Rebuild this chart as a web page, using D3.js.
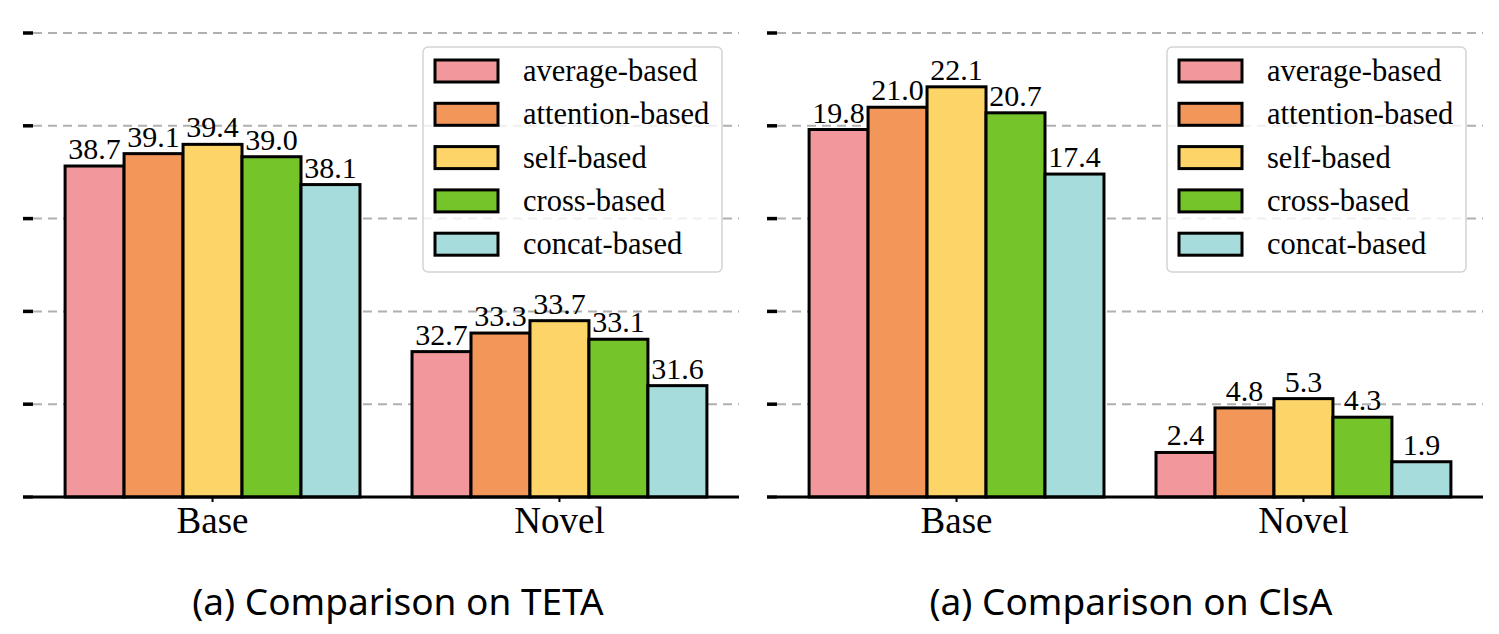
<!DOCTYPE html>
<html>
<head>
<meta charset="utf-8">
<script src="https://cdn.jsdelivr.net/npm/d3@7"></script>
<style>
html,body{margin:0;padding:0;background:#fff;}
svg{display:block;}
</style>
</head>
<body>
<svg id="chart" width="1499" height="634"></svg>
<script>
// ---- data ----
const categories = ["Base", "Novel"];
const methods = ["average-based", "attention-based", "self-based", "cross-based", "concat-based"];
const colors = ["#F2989C", "#F2965A", "#FDD467", "#74C42A", "#A7DCDC"];
const tetaValues = [
  [38.7, 32.7],
  [39.1, 33.3],
  [39.4, 33.7],
  [39.0, 33.1],
  [38.1, 31.6]
];
const clsaValues = [
  [19.8, 2.4],
  [21.0, 4.8],
  [22.1, 5.3],
  [20.7, 4.3],
  [17.4, 1.9]
];
const tetaTicks = [28, 31, 34, 37, 40, 43];
const clsaTicks = [0, 5, 10, 15, 20, 25];
const titles = ["(a) Comparison on TETA", "(a) Comparison on ClsA"];

// ---- drawing ----
const svg = d3.select("#chart");
const serif = "'Liberation Serif','Times New Roman',Times,serif";
const sans = "'Noto Sans','Open Sans',sans-serif";
const barW = 0.17;

function panel(opts) {
  const {x0, x1, values, ticks, title, titleX} = opts;
  const yTop = 33, yBot = 497;
  const g = svg.append("g");
  const x = d3.scaleLinear().domain([-0.5175, 1.5175]).range([x0, x1]);
  const y = d3.scaleLinear().domain([ticks[0], ticks[ticks.length - 1]]).range([yBot, yTop]);

  // gridlines
  g.append("g").selectAll("line").data(ticks).join("line")
    .attr("x1", x0).attr("x2", x1)
    .attr("y1", d => y(d)).attr("y2", d => y(d))
    .attr("stroke", "#b0b0b0").attr("stroke-width", 2)
    .attr("stroke-dasharray", "9,6");

  // bars
  methods.forEach((m, i) => {
    const gb = g.append("g");
    categories.forEach((c, ci) => {
      const v = values[i][ci];
      const cx = ci + (i - 2) * barW;
      gb.append("rect")
        .attr("x", x(cx - barW / 2))
        .attr("width", x(cx + barW / 2) - x(cx - barW / 2))
        .attr("y", y(v))
        .attr("height", yBot - y(v))
        .attr("fill", colors[i])
        .attr("stroke", "#000").attr("stroke-width", 3);
      gb.append("text")
        .attr("x", x(cx)).attr("y", y(v) - 7)
        .attr("text-anchor", "middle")
        .attr("font-family", serif).attr("font-size", 30)
        .attr("fill", "#000")
        .text(v.toFixed(1));
    });
  });

  // y ticks (no labels)
  g.append("g").selectAll("line").data(ticks).join("line")
    .attr("x1", x0 - 10).attr("x2", x0)
    .attr("y1", d => y(d)).attr("y2", d => y(d))
    .attr("stroke", "#000").attr("stroke-width", 3.5);

  // bottom spine
  g.append("line")
    .attr("x1", x0).attr("x2", x1).attr("y1", yBot).attr("y2", yBot)
    .attr("stroke", "#000").attr("stroke-width", 3);

  // x ticks + labels
  categories.forEach((c, ci) => {
    g.append("line")
      .attr("x1", x(ci)).attr("x2", x(ci))
      .attr("y1", yBot).attr("y2", yBot + 5)
      .attr("stroke", "#000").attr("stroke-width", 2);
    g.append("text")
      .attr("x", x(ci)).attr("y", 533)
      .attr("text-anchor", "middle")
      .attr("font-family", serif).attr("font-size", 37)
      .text(c);
  });

  // legend
  const lx = x1 - 316, ly = 47;
  const lg = g.append("g");
  lg.append("rect")
    .attr("x", lx).attr("y", ly).attr("width", 299).attr("height", 225)
    .attr("rx", 5).attr("ry", 5)
    .attr("fill", "#fff").attr("fill-opacity", 0.8)
    .attr("stroke", "#d4d4d4").attr("stroke-width", 1.5);
  methods.forEach((m, i) => {
    const cy = ly + 24 + i * 43.3;
    lg.append("rect")
      .attr("x", lx + 12).attr("y", cy - 11)
      .attr("width", 63).attr("height", 22)
      .attr("fill", colors[i]).attr("stroke", "#000").attr("stroke-width", 3);
    lg.append("text")
      .attr("x", lx + 100).attr("y", cy + 10)
      .attr("font-family", serif).attr("font-size", 30.5)
      .text(m);
  });

  // subtitle
  svg.append("text")
    .attr("x", titleX).attr("y", 615)
    .attr("text-anchor", "middle")
    .attr("font-family", sans).attr("font-size", 37)
    .attr("fill", "#000")
    .text(title);
}

panel({x0: 33, x1: 739, values: tetaValues, ticks: tetaTicks, title: titles[0], titleX: 398});
panel({x0: 777, x1: 1483, values: clsaValues, ticks: clsaTicks, title: titles[1], titleX: 1131});
</script>
</body>
</html>
